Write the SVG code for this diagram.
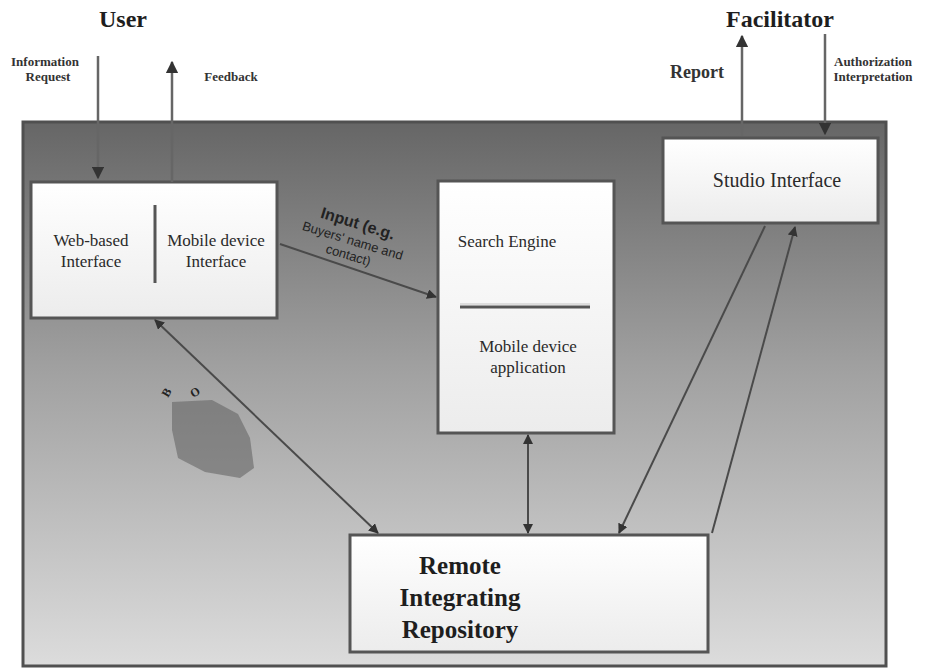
<svg xmlns="http://www.w3.org/2000/svg" width="926" height="671" viewBox="0 0 926 671">
  <defs>
    <linearGradient id="panelGrad" x1="0" y1="0" x2="0" y2="1">
      <stop offset="0" stop-color="#666666"/>
      <stop offset="0.45" stop-color="#a0a0a0"/>
      <stop offset="1" stop-color="#dcdcdc"/>
    </linearGradient>
    <linearGradient id="boxGrad" x1="0" y1="0" x2="0" y2="1">
      <stop offset="0" stop-color="#ffffff"/>
      <stop offset="1" stop-color="#ececec"/>
    </linearGradient>
    <marker id="arrow" viewBox="0 0 10 10" refX="9" refY="5" markerWidth="5" markerHeight="5" orient="auto-start-reverse">
      <path d="M0,0 L10,5 L0,10 z" fill="#333"/>
    </marker>
  </defs>
  <style>
    .title { font-family: "Liberation Serif", serif; font-weight: bold; font-size: 24px; fill: #1e1e1e; text-anchor: middle; }
    .flow { font-family: "Liberation Serif", serif; font-weight: bold; font-size: 13px; fill: #333; text-anchor: middle; }
    .flow-lg { font-size: 18px; }
    .node-text { font-family: "Liberation Serif", serif; font-size: 17px; fill: #2a2a2a; text-anchor: middle; }
    .node-lg { font-size: 20px; }
    .big-text { font-family: "Liberation Serif", serif; font-weight: bold; font-size: 25px; fill: #1e1e1e; text-anchor: middle; }
    .box { fill: url(#boxGrad); stroke: #555; stroke-width: 3; }
    .conn { stroke: #4a4a4a; stroke-width: 2; fill: none; }
    .ext { stroke: #666; stroke-width: 2.5; fill: none; }
  </style>

  <rect width="926" height="671" fill="#ffffff"/>

  <!-- Actors -->
  <text class="title" x="123" y="27">User</text>
  <text class="title" x="780" y="27">Facilitator</text>

  <!-- System panel -->
  <g id="system">
    <rect x="23" y="122" width="863" height="544" fill="url(#panelGrad)" stroke="#505050" stroke-width="3"/>
  </g>

  <!-- Nodes -->
  <g id="user-interfaces">
    <rect class="box" x="31" y="182" width="246" height="136"/>
    <line x1="155" y1="205" x2="155" y2="283" stroke="#555" stroke-width="3"/>
    <text class="node-text" x="91" y="246">Web-based</text>
    <text class="node-text" x="91" y="267">Interface</text>
    <text class="node-text" x="216" y="246">Mobile device</text>
    <text class="node-text" x="216" y="267">Interface</text>
  </g>

  <g id="search-engine">
    <rect class="box" x="438" y="181" width="176" height="252"/>
    <text class="node-text" x="507" y="247">Search Engine</text>
    <line x1="460" y1="304" x2="590" y2="304" stroke="#ddd" stroke-width="2"/>
    <line x1="460" y1="307" x2="590" y2="307" stroke="#555" stroke-width="3"/>
    <text class="node-text" x="528" y="352">Mobile device</text>
    <text class="node-text" x="528" y="373">application</text>
  </g>

  <g id="studio-interface">
    <rect class="box" x="663" y="138" width="215" height="85"/>
    <text class="node-text node-lg" x="777" y="187">Studio Interface</text>
  </g>

  <g id="repository">
    <rect class="box" x="350" y="535" width="358" height="117"/>
    <text class="big-text" x="460" y="574">Remote</text>
    <text class="big-text" x="460" y="606">Integrating</text>
    <text class="big-text" x="460" y="638">Repository</text>
  </g>

  <!-- Connectors -->
  <g id="connectors">
    <line class="ext" x1="98" y1="56" x2="98" y2="178" marker-end="url(#arrow)"/>
    <line class="ext" x1="172" y1="182" x2="172" y2="62" marker-end="url(#arrow)"/>
    <line class="ext" x1="742" y1="136" x2="742" y2="36" marker-end="url(#arrow)"/>
    <line class="ext" x1="825" y1="34" x2="825" y2="134" marker-end="url(#arrow)"/>

    <line class="conn" x1="280" y1="244" x2="436" y2="297" marker-end="url(#arrow)"/>
    <line class="conn" x1="155" y1="320" x2="378" y2="533" marker-start="url(#arrow)" marker-end="url(#arrow)"/>
    <line class="conn" x1="528" y1="435" x2="528" y2="533" marker-start="url(#arrow)" marker-end="url(#arrow)"/>
    <line class="conn" x1="765" y1="226" x2="619" y2="533" marker-end="url(#arrow)"/>
    <line class="conn" x1="712" y1="533" x2="795" y2="227" marker-end="url(#arrow)"/>
  </g>

  <!-- Flow labels -->
  <text class="flow" x="45" y="66">Information</text>
  <text class="flow" x="48" y="81">Request</text>
  <text class="flow" x="231" y="81">Feedback</text>
  <text class="flow flow-lg" x="697" y="78">Report</text>
  <text class="flow" x="873" y="66">Authorization</text>
  <text class="flow" x="873" y="81">Interpretation</text>

  <g transform="translate(352,243) rotate(17)" font-family="Liberation Sans, sans-serif" fill="#222" text-anchor="middle">
    <text x="0" y="-15" font-size="16" font-weight="bold">Input (e.g.</text>
    <text x="0" y="2" font-size="13">Buyers' name and</text>
    <text x="0" y="17" font-size="13">contact)</text>
  </g>

  <!-- Smudged label beside the left connector -->
  <polygon points="172,402 212,400 238,414 250,438 254,468 240,478 205,472 178,458 172,430" fill="#666" opacity="0.6"/>
  <text x="168" y="398" font-family="Liberation Serif, serif" font-size="12" font-weight="bold" fill="#222" transform="rotate(-60 168 398)">B</text>
  <text x="193" y="398" font-family="Liberation Serif, serif" font-size="12" font-weight="bold" fill="#222" transform="rotate(-30 193 398)">O</text>
</svg>
